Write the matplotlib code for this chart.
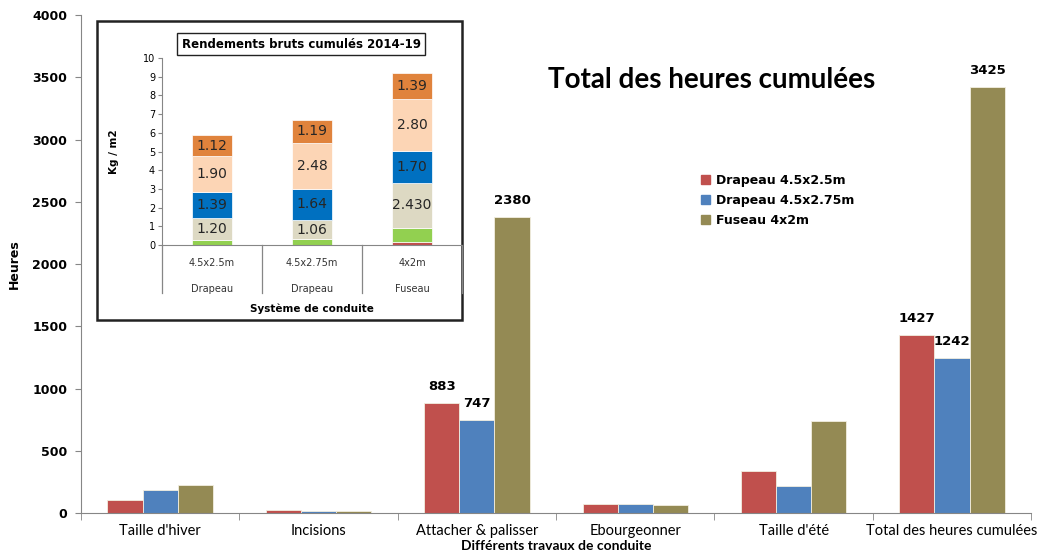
"""Total des heures cumulées, avec encart des rendements bruts cumulés."""

import numpy as np
import matplotlib.pyplot as plt
from matplotlib.patches import Rectangle
from matplotlib.lines import Line2D

# main chart data
categories = ["Taille d'hiver", "Incisions", "Attacher & palisser",
              "Ebourgeonner", "Taille d'été", "Total des heures cumulées"]
series_names = ["Drapeau 4.5x2.5m", "Drapeau 4.5x2.75m", "Fuseau 4x2m"]
drapeau_25 = [105, 25, 883, 75, 339, 1427]
drapeau_275 = [185, 15, 747, 75, 220, 1242]
fuseau = [225, 20, 2380, 65, 735, 3425]
labelled = [2, 5]  # categories with value labels

# inset data (stack from bottom to top)
inset_sizes = ["4.5x2.5m", "4.5x2.75m", "4x2m"]
inset_systems = ["Drapeau", "Drapeau", "Fuseau"]
seg_red = [0.0, 0.0, 0.15]
seg_green = [0.25, 0.30, 0.75]
seg_beige = [1.20, 1.06, 2.430]
seg_blue = [1.39, 1.64, 1.70]
seg_peach = [1.90, 2.48, 2.80]
seg_orange = [1.12, 1.19, 1.39]
seg_text = [None, None, ["1.20", "1.06", "2.430"], ["1.39", "1.64", "1.70"],
            ["1.90", "2.48", "2.80"], ["1.12", "1.19", "1.39"]]

COLORS = ["#C0504D", "#4F81BD", "#948A54"]
INSET_COLORS = ["#C0504D", "#92D050", "#DDD9C3", "#0070C0", "#FCD5B5", "#E0833C"]
NARROW = ["Lato", "DejaVu Sans"]

fig = plt.figure(figsize=(10.5, 5.57), dpi=100)
ax = fig.add_axes([0.0771, 0.079, 0.905, 0.894])

x = np.arange(len(categories))
width = 0.222
for i, (vals, col) in enumerate(zip([drapeau_25, drapeau_275, fuseau], COLORS)):
    pos = x + (i - 1) * width
    ax.bar(pos, vals, width, color=col, edgecolor="#f2eee0", linewidth=0.6,
           label=series_names[i], zorder=2)
    for k in labelled:
        ax.text(pos[k], vals[k] + 80, str(vals[k]), ha="center", va="bottom",
                fontsize=9.5, fontweight="bold")

ax.set_xlim(-0.5, len(categories) - 0.5)
ax.set_ylim(0, 4000)
ax.set_yticks(np.arange(0, 4001, 500))
ax.tick_params(axis="y", labelsize=9, length=4, color="#868686", pad=6)
for t in ax.get_yticklabels():
    t.set_fontweight("bold")
ax.set_xticks(x)
ax.set_xticklabels(categories, fontsize=10.5, family=NARROW)
ax.tick_params(axis="x", length=0, pad=8)
ax.set_xticks(np.arange(-0.5, len(categories)), minor=True)
ax.tick_params(axis="x", which="minor", length=5, color="#868686")
for s in ["top", "right"]:
    ax.spines[s].set_visible(False)
for s in ["left", "bottom"]:
    ax.spines[s].set_color("#868686")
ax.set_ylabel("Heures", fontsize=9, fontweight="bold", labelpad=8)
ax.set_xlabel("Différents travaux de conduite", fontsize=10, fontweight="bold",
              family=NARROW, labelpad=1.5)

fig.text(0.678, 0.856, "Total des heures cumulées", fontsize=20,
         fontweight="bold", family=["Lato", "DejaVu Sans"], ha="center", va="center")

handles = [Rectangle((0, 0), 1, 1, color=c) for c in COLORS]
ax.legend(handles, series_names, loc="upper left", bbox_to_anchor=(0.641, 0.703),
          frameon=False, prop={"weight": "bold", "size": 9},
          handlelength=0.7, handleheight=0.7, handletextpad=0.5, labelspacing=0.55)

# inset frame
fig.patches.append(Rectangle((0.0924, 0.4255), 0.3476, 0.5368, transform=fig.transFigure,
                             facecolor="white", edgecolor="#222222", linewidth=1.8, zorder=3))

ins = fig.add_axes([0.1543, 0.5601, 0.2857, 0.3357], zorder=4)
ins.patch.set_visible(False)
xi = np.arange(len(inset_sizes))
bottom = np.zeros(len(inset_sizes))
segments = [seg_red, seg_green, seg_beige, seg_blue, seg_peach, seg_orange]
for seg, col, txt in zip(segments, INSET_COLORS, seg_text):
    seg = np.array(seg)
    ins.bar(xi, seg, 0.4, bottom=bottom, color=col, edgecolor="white", linewidth=0.5)
    if txt is not None:
        for j in range(len(xi)):
            ins.text(xi[j], bottom[j] + seg[j] / 2, txt[j], ha="center", va="center",
                     fontsize=10, color="#262626")
    bottom += seg

ins.set_xlim(-0.5, len(inset_sizes) - 0.5)
ins.set_ylim(0, 10)
ins.set_yticks(range(0, 11))
ins.tick_params(axis="y", labelsize=7, length=3, color="#868686", pad=2)
ins.set_xticks([])
for s in ["top", "right"]:
    ins.spines[s].set_visible(False)
for s in ["left", "bottom"]:
    ins.spines[s].set_color("#868686")
ins.set_ylabel("Kg / m2", fontsize=7.5, fontweight="bold", labelpad=17)

for j in range(len(inset_sizes)):
    ins.text(xi[j], -0.95, inset_sizes[j], ha="center", va="center", fontsize=7,
             color="#333333", clip_on=False)
    ins.text(xi[j], -2.35, inset_systems[j], ha="center", va="center", fontsize=7,
             color="#333333", clip_on=False)
for b in np.arange(-0.5, len(inset_sizes)):
    ins.add_line(Line2D([b, b], [0, -2.55], color="#868686", linewidth=0.9, clip_on=False))
ins.text(1.0, -3.4, "Système de conduite", ha="center", va="center", fontsize=7.5,
         fontweight="bold", clip_on=False)

fig.text(0.2867, 0.921, "Rendements bruts cumulés 2014-19", ha="center", va="center",
         fontsize=8.5, fontweight="bold", zorder=5,
         bbox=dict(boxstyle="square,pad=0.35", facecolor="white", edgecolor="#222222",
                   linewidth=1.0))

fig.savefig("out.png", dpi=100)
